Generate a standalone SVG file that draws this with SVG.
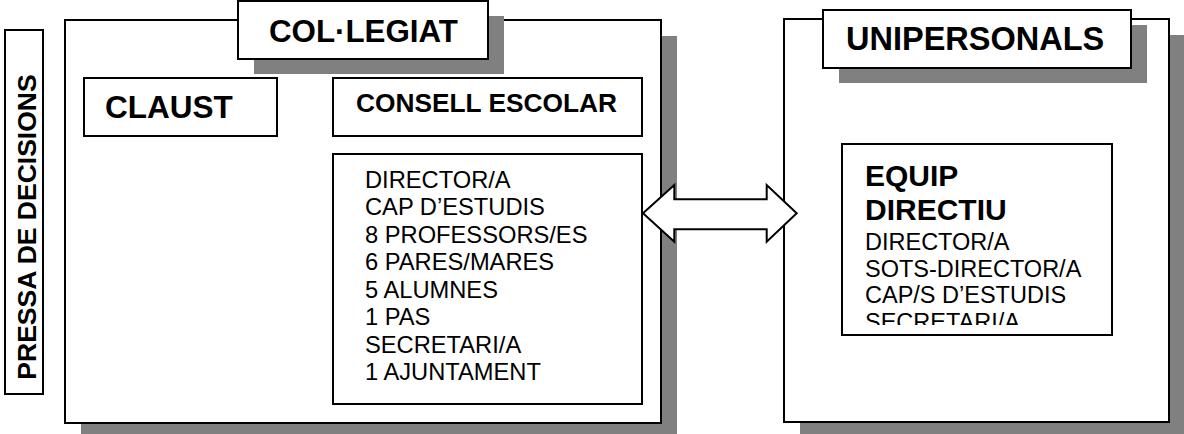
<svg xmlns="http://www.w3.org/2000/svg" width="1184" height="434" viewBox="0 0 1184 434">
<style>
.box{fill:#fff;stroke:#000;stroke-width:2}
.sh{fill:#808080}
.b{font-family:"Liberation Sans",Arial,sans-serif;font-weight:bold;fill:#000}
.r{font-family:"Liberation Sans",Arial,sans-serif;fill:#000}
</style>
<defs>
<clipPath id="eqclip"><rect x="843" y="145" width="268" height="180"/></clipPath>
</defs>
<rect width="1184" height="434" fill="#fff"/>
<g id="pressa">
<rect class="box" x="5" y="30" width="38" height="364"/>
<text class="b" font-size="26.5" text-anchor="middle" transform="translate(36,227) rotate(-90)">PRESSA DE DECISIONS</text>
</g>
<g id="collegiat">
<rect class="sh" x="81" y="36" width="596" height="403"/>
<rect class="box" x="65" y="20" width="596" height="403"/>
<rect class="sh" x="254" y="16" width="250" height="58"/>
<rect class="box" x="238" y="1" width="250" height="58"/>
<text class="b" font-size="31.3" x="269" y="42">COL·LEGIAT</text>
</g>
<g id="claust">
<rect class="box" x="84" y="78" width="193" height="58"/>
<text class="b" font-size="31.5" x="105" y="118">CLAUST</text>
</g>
<g id="consell">
<rect class="box" x="333" y="78" width="309" height="58"/>
<text class="b" font-size="26.3" x="356" y="112">CONSELL ESCOLAR</text>
</g>
<g id="membres">
<rect class="box" x="333" y="154" width="309" height="250"/>
<g class="r" font-size="23.7">
<text x="365" y="187.5">DIRECTOR/A</text>
<text x="365" y="215">CAP D’ESTUDIS</text>
<text x="365" y="242.5">8 PROFESSORS/ES</text>
<text x="365" y="270">6 PARES/MARES</text>
<text x="365" y="297.5">5 ALUMNES</text>
<text x="365" y="325">1 PAS</text>
<text x="365" y="352.5">SECRETARI/A</text>
<text x="365" y="380">1 AJUNTAMENT</text>
</g>
</g>
<g id="unipersonals">
<rect class="sh" x="800" y="35" width="385" height="403"/>
<rect class="box" x="784" y="19" width="385" height="403"/>
<rect class="sh" x="839" y="25" width="308" height="58"/>
<rect class="box" x="823" y="10" width="308" height="58"/>
<text class="b" font-size="32.5" x="846" y="50">UNIPERSONALS</text>
</g>
<g id="equip">
<rect class="box" x="842" y="144" width="270" height="191"/>
<g clip-path="url(#eqclip)">
<text class="b" font-size="30" x="865" y="186">EQUIP</text>
<text class="b" font-size="30" x="865" y="220">DIRECTIU</text>
<g class="r" font-size="23.5">
<text x="865" y="250">DIRECTOR/A</text>
<text x="865" y="276.7">SOTS-DIRECTOR/A</text>
<text x="865" y="303.3">CAP/S D’ESTUDIS</text>
<text x="865" y="330">SECRETARI/A</text>
</g>
</g>
</g>
<g id="connectors">
<polygon class="box" points="643,213.3 674.3,185 674.3,199.3 766.7,199.3 766.7,185 796.7,213.3 766.7,241.7 766.7,229.3 674.3,229.3 674.3,241.7"/>
</g>
</svg>
